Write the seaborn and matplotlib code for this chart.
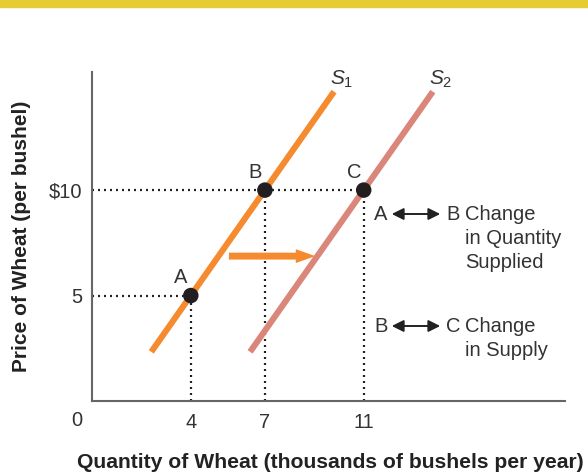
import numpy as np
import pandas as pd
import matplotlib
matplotlib.use("Agg")
import matplotlib.pyplot as plt
import seaborn as sns
from matplotlib.patches import Rectangle, FancyArrowPatch

sns.set_style("white")
plt.rcParams['font.family'] = ['Liberation Sans', 'DejaVu Sans']
plt.rcParams['mathtext.fontset'] = 'custom'
plt.rcParams['mathtext.it'] = 'Liberation Sans:italic'
plt.rcParams['mathtext.rm'] = 'Liberation Sans'

# --- data ---
s1_q = [2.4, 9.8]
s1_p = [2.33, 14.67]
s2_q = [6.4, 13.8]
s2_p = [2.33, 14.67]
point_names = ['A', 'B', 'C']
point_q = [4, 7, 11]
point_p = [5, 10, 10]
x_ticks = [4, 7, 11]
y_ticks = [5, 10]
y_tick_labels = ['5', '$10']

ORANGE = '#F58A2E'
SALMON = '#DB867A'
TEXT = '#333333'
AXIS = '#666666'
FS = 14.5

W, H = 588, 475
fig = plt.figure(figsize=(W / 100, H / 100), dpi=100)
ax = fig.add_axes([92 / W, 1 - 401 / H, (565 - 92) / W, (401 - 72) / H])
ax.set_xlim(0, 19.15)
ax.set_ylim(0, 15.6)

def fx(px):
    return px / W

def fy(py):
    return 1 - py / H

# yellow band at top
fig.patches.append(Rectangle((0, fy(7)), 1, 7 / H, transform=fig.transFigure,
                             color='#E6CB33', zorder=0))

curves = pd.DataFrame({
    'q': s1_q + s2_q,
    'p': s1_p + s2_p,
    'curve': ['S1'] * 2 + ['S2'] * 2,
})
sns.lineplot(data=curves, x='q', y='p', hue='curve', palette=[ORANGE, SALMON],
             linewidth=4.4, legend=False, ax=ax, solid_capstyle='butt', zorder=2)

# dotted guides
dot = dict(color='#222222', linewidth=1.6, linestyle=(0, (0.9, 1.8)), zorder=1)
ax.plot([0, point_q[2]], [point_p[1], point_p[2]], **dot)
ax.plot([0, point_q[0]], [point_p[0], point_p[0]], **dot)
for q, p in zip(point_q, point_p):
    ax.plot([q, q], [0, p], **dot)

pts = pd.DataFrame({'q': point_q, 'p': point_p})
sns.scatterplot(data=pts, x='q', y='p', color='#231F20', s=125, edgecolor='none',
                ax=ax, zorder=4)

for name, q, p in zip(point_names, point_q, point_p):
    ax.annotate(name, (q, p), xytext=(-7, 6), textcoords='offset points',
                ha='center', va='bottom', fontsize=FS, color=TEXT)

# curve labels
ax.text(s1_q[1] + 0.3, s1_p[1] + 0.1, '$S_1$', fontsize=15, color=TEXT,
        ha='center', va='bottom')
ax.text(s2_q[1] + 0.3, s2_p[1] + 0.1, '$S_2$', fontsize=15, color=TEXT,
        ha='center', va='bottom')

# shift arrow
shift = FancyArrowPatch((5.43, 6.87), (9.15, 6.87),
                        arrowstyle='simple,head_length=14,head_width=10,tail_width=5',
                        mutation_scale=1, color=ORANGE, lw=0, zorder=3)
ax.add_patch(shift)

# axes
for side in ['top', 'right']:
    ax.spines[side].set_visible(False)
for side in ['left', 'bottom']:
    ax.spines[side].set_color(AXIS)
    ax.spines[side].set_linewidth(1.5)
ax.set_xticks(x_ticks)
ax.set_xticklabels([str(t) for t in x_ticks])
ax.set_yticks(y_ticks)
ax.set_yticklabels(y_tick_labels)
ax.tick_params(length=0, labelsize=FS, labelcolor=TEXT)
ax.tick_params(axis='x', pad=9)
ax.tick_params(axis='y', pad=7)
ax.set_xlabel('')
ax.set_ylabel('')
fig.text(fx(77), fy(420), '0', fontsize=FS, color=TEXT, ha='center', va='center')

fig.text(fx(330), fy(463), 'Quantity of Wheat (thousands of bushels per year)',
         fontsize=15.2, fontweight='bold', color='#222222', ha='center', va='center')
fig.text(fx(22), fy(236), 'Price of Wheat (per bushel)', rotation=90,
         fontsize=15, fontweight='bold', color='#222222', ha='center', va='center')

# notes on the right
def note(py, left, right, lines):
    fig.text(fx(381), fy(py), left, fontsize=FS, color=TEXT, ha='center', va='center')
    fig.text(fx(453), fy(py), right, fontsize=FS, color=TEXT, ha='center', va='center')
    fig.patches.append(FancyArrowPatch((fx(389), fy(py)), (fx(443), fy(py)),
                                       transform=fig.transFigure,
                                       arrowstyle='<|-|>,head_length=7,head_width=3.5',
                                       mutation_scale=1, color='#222222', lw=1.4))
    for i, line in enumerate(lines):
        fig.text(fx(465), fy(py + i * 24), line, fontsize=FS, color=TEXT,
                 ha='left', va='center')

note(214, 'A', 'B', ['Change', 'in Quantity', 'Supplied'])
note(326, 'B', 'C', ['Change', 'in Supply'])

fig.savefig('out.png', dpi=100)
